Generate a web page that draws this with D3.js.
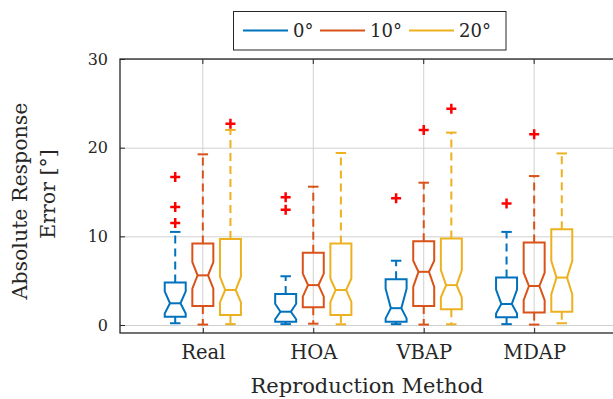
<!DOCTYPE html>
<html>
<head>
<meta charset="utf-8">
<script src="https://cdn.jsdelivr.net/npm/d3@7"></script>
<style>
  body { margin: 0; background: #fff; }
  svg { display: block; font-family: "DejaVu Serif", serif; }
</style>
</head>
<body>
<svg id="chart" width="613" height="399"></svg>
<script>
// categories and series
const methods = ["Real", "HOA", "VBAP", "MDAP"];
const angles = ["0°", "10°", "20°"];
const colors = ["#0072BD", "#D95319", "#EDB120"];
const yTicks = [0, 10, 20, 30];

// box statistics, one array per angle, in order of methods
const whiskerLow0 = [0.2, 0.1, 0.1, 0.1];
const q1_0 = [0.94, 0.37, 0.37, 0.87];
const notchLow0 = [1.3, 0.65, 0.75, 1.3];
const median0 = [2.45, 1.5, 1.9, 2.37];
const notchHigh0 = [3.8, 2.4, 4.1, 4.0];
const q3_0 = [4.8, 3.5, 5.15, 5.35];
const whiskerHigh0 = [10.5, 5.5, 7.25, 10.5];
const outliers0 = [[11.5, 13.3, 16.7], [13.0, 14.4], [14.3], [13.7]];

const whiskerLow10 = [0.05, 0.15, 0.05, 0.05];
const q1_10 = [2.14, 2.0, 2.14, 1.4];
const notchLow10 = [4.1, 3.2, 4.3, 2.8];
const median10 = [5.6, 4.5, 6.0, 4.4];
const notchHigh10 = [7.1, 5.8, 7.25, 5.9];
const q3_10 = [9.2, 8.15, 9.45, 9.3];
const whiskerHigh10 = [19.25, 15.6, 16.05, 16.8];
const outliers10 = [[], [], [22.0], [21.5]];

const whiskerLow20 = [0.1, 0.08, 0.08, 0.2];
const q1_20 = [1.13, 1.13, 1.77, 1.5];
const notchLow20 = [2.55, 2.6, 3.1, 3.45];
const median20 = [3.95, 3.95, 4.5, 5.35];
const notchHigh20 = [5.45, 5.25, 6.2, 7.25];
const q3_20 = [9.7, 9.2, 9.77, 10.8];
const whiskerHigh20 = [22.0, 19.4, 21.7, 19.35];
const outliers20 = [[22.7], [], [24.4], []];

const series = [
    { wl: whiskerLow0, q1: q1_0, nl: notchLow0, med: median0, nh: notchHigh0, q3: q3_0, wh: whiskerHigh0, out: outliers0 },
    { wl: whiskerLow10, q1: q1_10, nl: notchLow10, med: median10, nh: notchHigh10, q3: q3_10, wh: whiskerHigh10, out: outliers10 },
    { wl: whiskerLow20, q1: q1_20, nl: notchLow20, med: median20, nh: notchHigh20, q3: q3_20, wh: whiskerHigh20, out: outliers20 }
];

const svg = d3.select("#chart");
const axisColor = "#262626";

const x = d3.scaleLinear().domain([0.25, 4.75]).range([120, 617]);
const y = d3.scaleLinear().domain([-0.9, 30]).range([333, 59]);
const offsets = [-0.25, 0, 0.25];
const boxW = 0.19;

// grid
const grid = svg.append("g").attr("stroke", "#d0d0d0").attr("stroke-width", 1);
grid.selectAll("line.h").data(yTicks).enter().append("line")
    .attr("x1", x(0.25)).attr("x2", x(4.75))
    .attr("y1", d => y(d) + 0.5).attr("y2", d => y(d) + 0.5);
grid.selectAll("line.v").data(methods).enter().append("line")
    .attr("x1", (d, i) => x(i + 1)).attr("x2", (d, i) => x(i + 1))
    .attr("y1", y(30)).attr("y2", y(-0.9));

// boxes
series.forEach((s, k) => {
    const g = svg.append("g")
        .attr("stroke", colors[k])
        .attr("fill", "none")
        .attr("stroke-width", 2);
    methods.forEach((m, i) => {
        const cx = x(i + 1 + offsets[k]);
        const half = (x(boxW) - x(0)) / 2;
        const inset = half * 0.5;
        const capHalf = half * 0.5;

        // whiskers
        g.append("line").attr("x1", cx).attr("x2", cx)
            .attr("y1", y(s.q3[i])).attr("y2", y(s.wh[i]))
            .attr("stroke-dasharray", "8,5");
        g.append("line").attr("x1", cx).attr("x2", cx)
            .attr("y1", y(s.q1[i])).attr("y2", y(s.wl[i]))
            .attr("stroke-dasharray", "8,5");
        g.append("line").attr("x1", cx - capHalf).attr("x2", cx + capHalf)
            .attr("y1", y(s.wh[i])).attr("y2", y(s.wh[i]));
        g.append("line").attr("x1", cx - capHalf).attr("x2", cx + capHalf)
            .attr("y1", y(s.wl[i])).attr("y2", y(s.wl[i]));

        // notched box
        const pts = [
            [cx - half, y(s.q1[i])],
            [cx - half, y(s.nl[i])],
            [cx - half + inset, y(s.med[i])],
            [cx - half, y(s.nh[i])],
            [cx - half, y(s.q3[i])],
            [cx + half, y(s.q3[i])],
            [cx + half, y(s.nh[i])],
            [cx + half - inset, y(s.med[i])],
            [cx + half, y(s.nl[i])],
            [cx + half, y(s.q1[i])]
        ];
        g.append("path").attr("d", d3.line()(pts) + "Z").attr("stroke-linejoin", "miter");
        g.append("line")
            .attr("x1", cx - half + inset).attr("x2", cx + half - inset)
            .attr("y1", y(s.med[i])).attr("y2", y(s.med[i]));

        // outliers
        s.out[i].forEach(v => {
            g.append("path")
                .attr("d", `M${cx - 5},${y(v)}H${cx + 5}M${cx},${y(v) - 5}V${y(v) + 5}`)
                .attr("stroke", "#ff0000")
                .attr("stroke-width", 2.5);
        });
    });
});

// axes box
svg.append("rect")
    .attr("x", 120).attr("y", y(30))
    .attr("width", x(4.75) - 120).attr("height", y(-0.9) - y(30))
    .attr("fill", "none").attr("stroke", axisColor).attr("stroke-width", 1.3);

// y axis
const yAxis = svg.append("g")
    .attr("transform", "translate(120,0)")
    .call(d3.axisLeft(y).tickValues(yTicks).tickSize(-5).tickPadding(12));
yAxis.select(".domain").remove();
yAxis.selectAll("line").attr("stroke", axisColor);
yAxis.selectAll("text").attr("font-family", "DejaVu Serif").attr("font-size", 16).attr("fill", axisColor);

// x axis
const xAxis = svg.append("g")
    .attr("transform", `translate(0,${y(-0.9)})`)
    .call(d3.axisBottom(x).tickValues([1, 2, 3, 4]).tickFormat((d, i) => methods[i]).tickSize(-5).tickPadding(12));
xAxis.select(".domain").remove();
xAxis.selectAll("line").attr("stroke", axisColor);
xAxis.selectAll("text").attr("font-family", "DejaVu Serif").attr("font-size", 19.5).attr("fill", axisColor);

// mirrored ticks on top
svg.append("g").selectAll("line").data([1, 2, 3, 4]).enter().append("line")
    .attr("x1", d => x(d)).attr("x2", d => x(d))
    .attr("y1", y(30)).attr("y2", y(30) + 5)
    .attr("stroke", axisColor);

// axis titles
svg.append("text")
    .attr("x", 367).attr("y", 393)
    .attr("text-anchor", "middle")
    .attr("font-size", 21).attr("fill", axisColor)
    .text("Reproduction Method");
svg.append("text")
    .attr("transform", "translate(27,201) rotate(-90)")
    .attr("text-anchor", "middle")
    .attr("font-size", 20.5).attr("fill", axisColor)
    .text("Absolute Response");
svg.append("text")
    .attr("transform", "translate(55,194) rotate(-90)")
    .attr("text-anchor", "middle")
    .attr("font-size", 20.5).attr("fill", axisColor)
    .text("Error [°]");

// legend
const legend = svg.append("g");
legend.append("rect")
    .attr("x", 233.5).attr("y", 11.5).attr("width", 272.5).attr("height", 38.5)
    .attr("fill", "#fff").attr("stroke", axisColor).attr("stroke-width", 1);
const legendX = [243, 320, 409];
angles.forEach((a, k) => {
    legend.append("line")
        .attr("x1", legendX[k]).attr("x2", legendX[k] + 45)
        .attr("y1", 30.5).attr("y2", 30.5)
        .attr("stroke", colors[k]).attr("stroke-width", 2);
    legend.append("text")
        .attr("x", legendX[k] + 50).attr("y", 37)
        .attr("font-size", 18).attr("fill", axisColor)
        .text(a);
});
</script>
</body>
</html>
